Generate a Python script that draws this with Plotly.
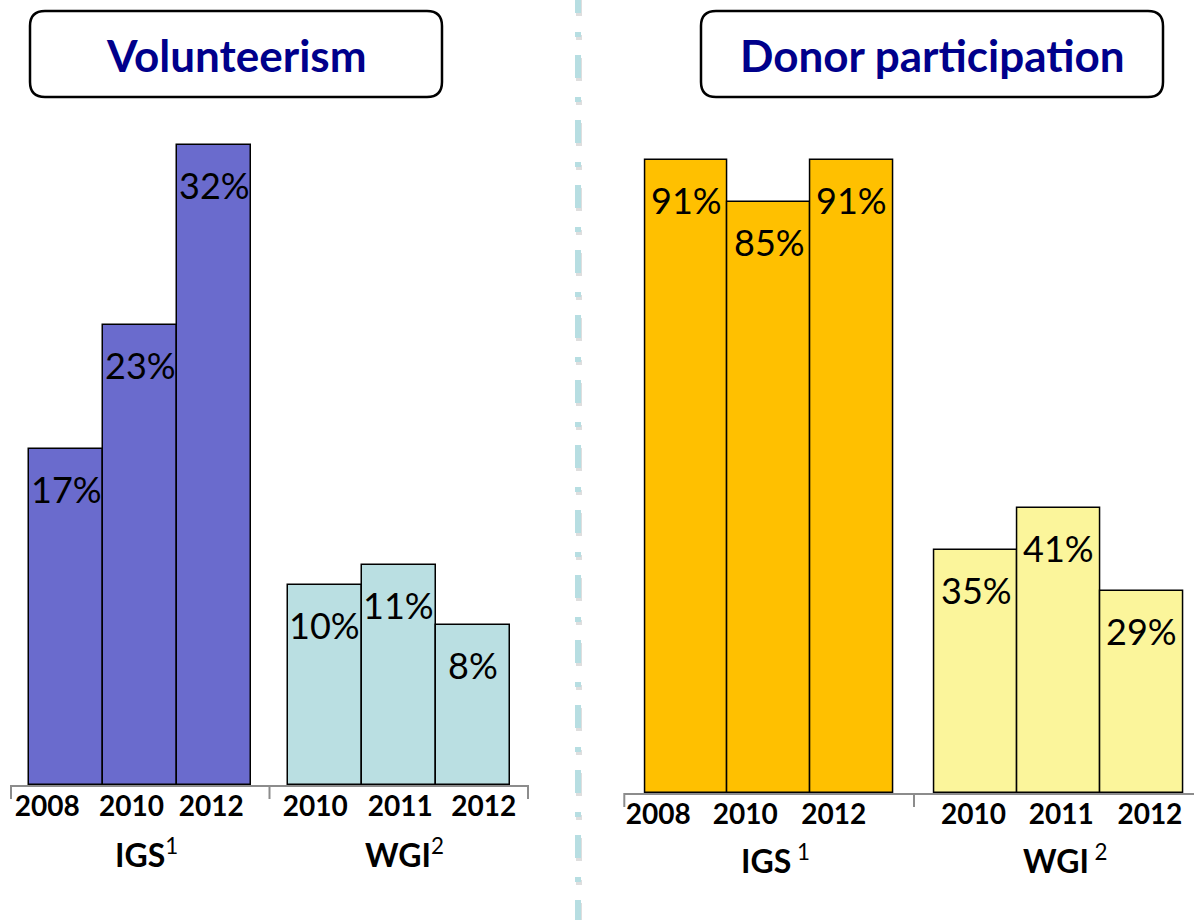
import plotly.graph_objects as go

# ---------------- data ----------------
years_igs = ["2008", "2010", "2012"]
years_wgi = ["2010", "2011", "2012"]

vol_igs = [16.8, 23, 32]
vol_wgi = [10, 11, 8]
vol_igs_labels = ["17%", "23%", "32%"]
vol_wgi_labels = ["10%", "11%", "8%"]

don_igs = [91, 85, 91]
don_wgi = [35, 41, 29]
don_igs_labels = ["91%", "85%", "91%"]
don_wgi_labels = ["35%", "41%", "29%"]

titles = ["Volunteerism", "Donor participation"]
groups = ["IGS", "WGI"]

# ---------------- layout helpers ----------------
W, H = 1194, 920
FONT = "Lato"


def fx(px):
    return px / W


def fy(py):
    return 1 - py / H


igs_x = [0.5, 1.5, 2.5]
wgi_x = [4.0, 5.0, 6.0]

panels = [
    dict(xdom=[fx(11), fx(528)], xr=[-0.25, 6.75], ydom=[fy(785), fy(130)], yr=[0, 32.75],
         c1="#6A6BCD", c2="#BADFE2",
         v1=vol_igs, v2=vol_wgi, l1=vol_igs_labels, l2=vol_wgi_labels,
         ticks=[0.24, 1.38, 2.46, 3.87, 5.02, 6.15],
         base_px=785, grp_y=853, sep=""),
    dict(xdom=[fx(624.3), 1.0], xr=[-0.25, 6.633], ydom=[fy(793), fy(140)], yr=[0, 93.88],
         c1="#FFC000", c2="#FBF59B",
         v1=don_igs, v2=don_wgi, l1=don_igs_labels, l2=don_wgi_labels,
         ticks=[0.16, 1.21, 2.28, 3.97, 5.03, 6.10],
         base_px=793, grp_y=859, sep=" "),
]
sups = ["1", "2"]

fig = go.Figure()
layout = dict(width=W, height=H, margin=dict(l=0, r=0, t=0, b=0),
              paper_bgcolor="white", plot_bgcolor="rgba(0,0,0,0)",
              showlegend=False, bargap=0, font=dict(family=FONT, color="black"))
shapes = []
annotations = []

for i, p in enumerate(panels):
    xa = "x" if i == 0 else "x2"
    ya = "y" if i == 0 else "y2"
    xk = "xaxis" if i == 0 else "xaxis2"
    yk = "yaxis" if i == 0 else "yaxis2"
    for xs, vs, col in [(igs_x, p["v1"], p["c1"]), (wgi_x, p["v2"], p["c2"])]:
        fig.add_trace(go.Bar(x=xs, y=vs, width=1.0, xaxis=xa, yaxis=ya,
                             marker=dict(color=col, line=dict(color="black", width=1.5)),
                             hoverinfo="skip"))
    for xs, vs, ls in [(igs_x, p["v1"], p["l1"]), (wgi_x, p["v2"], p["l2"])]:
        for xv, v, lab in zip(xs, vs, ls):
            annotations.append(dict(x=xv, y=v, xref=xa, yref=ya, yshift=-40, text=lab,
                                    xanchor="center", yanchor="middle",
                                    showarrow=False, font=dict(size=36, family=FONT, color="black")))
    layout[xk] = dict(domain=p["xdom"], range=p["xr"], anchor=ya, showline=True,
                      linecolor="#8C8C8C", linewidth=2, ticks="", showgrid=False, zeroline=False,
                      tickmode="array", tickvals=p["ticks"], ticktext=years_igs + years_wgi,
                      tickfont=dict(size=28, family=FONT, color="black", weight="bold"),
                      ticklabelstandoff=-5, fixedrange=True)
    layout[yk] = dict(domain=p["ydom"], range=p["yr"], anchor=xa, visible=False,
                      showgrid=False, zeroline=False, fixedrange=True)

    # group separator ticks, mapped through the axis range
    d0, d1 = p["xdom"]
    r0, r1 = p["xr"]
    for tv in [-0.25, 3.25, 6.75]:
        if tv > r1:
            continue
        xp = d0 + (tv - r0) / (r1 - r0) * (d1 - d0)
        shapes.append(dict(type="line", xref="paper", yref="paper", x0=xp, x1=xp,
                           y0=fy(p["base_px"]), y1=fy(p["base_px"] + 14),
                           line=dict(color="#8C8C8C", width=2)))
    # group labels
    for g, gx, s in zip(groups, [1.58, 5.08], sups):
        annotations.append(dict(x=gx, y=fy(p["grp_y"]), xref=xa, yref="paper",
                                xanchor="center", yanchor="middle",
                                text=f"<b>{g}</b><sup>{p['sep']}{s}</sup>", showarrow=False,
                                font=dict(size=32, family=FONT, color="black")))


# rounded title boxes
def rrect(x0, y0, x1, y1, r):
    X = lambda v: f"{fx(v):.5f}"
    Y = lambda v: f"{fy(v):.5f}"
    return (f"M {X(x0 + r)},{Y(y0)} L {X(x1 - r)},{Y(y0)} Q {X(x1)},{Y(y0)} {X(x1)},{Y(y0 + r)} "
            f"L {X(x1)},{Y(y1 - r)} Q {X(x1)},{Y(y1)} {X(x1 - r)},{Y(y1)} "
            f"L {X(x0 + r)},{Y(y1)} Q {X(x0)},{Y(y1)} {X(x0)},{Y(y1 - r)} "
            f"L {X(x0)},{Y(y0 + r)} Q {X(x0)},{Y(y0)} {X(x0 + r)},{Y(y0)} Z")


boxes = [(30, 11, 442, 97), (701, 11, 1163, 97)]
for (x0, y0, x1, y1), t in zip(boxes, titles):
    shapes.append(dict(type="path", xref="paper", yref="paper", path=rrect(x0, y0, x1, y1, 15),
                       line=dict(color="black", width=2.5), fillcolor="white", layer="below"))
    annotations.append(dict(x=fx((x0 + x1) / 2), y=fy((y0 + y1) / 2 + 1), xref="paper", yref="paper",
                            xanchor="center", yanchor="middle",
                            text=f"<b>{t}</b>", showarrow=False,
                            font=dict(size=44, family=FONT, color="#00008B")))

# dash-dot divider with soft shadow
shapes.append(dict(type="line", xref="paper", yref="paper", x0=fx(579), x1=fx(579),
                   y0=fy(-10 + 3), y1=fy(935), line=dict(color="rgba(0,0,0,0.13)", width=6,
                                                        dash="23px,19px,5px,18px")))
shapes.append(dict(type="line", xref="paper", yref="paper", x0=fx(578), x1=fx(578),
                   y0=fy(-10), y1=fy(935), line=dict(color="#B7DEE2", width=6,
                                                    dash="23px,19px,5px,18px")))

layout["shapes"] = shapes
layout["annotations"] = annotations
fig.update_layout(**layout)
fig.write_html("out.html", config={"displayModeBar": False},
               post_script="document.body.style.margin='0px';")
